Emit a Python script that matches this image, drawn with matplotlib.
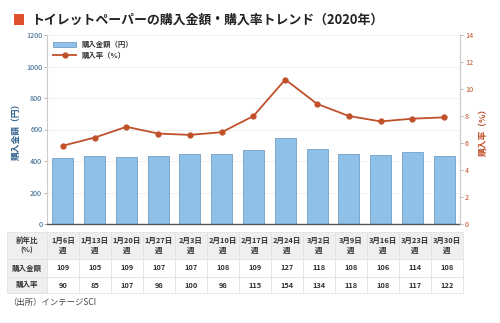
import matplotlib.pyplot as plt
from matplotlib.patches import Rectangle
from matplotlib.lines import Line2D
from matplotlib.patches import Patch

plt.rcParams['font.family'] = ['Noto Sans CJK JP', 'DejaVu Sans']

weeks = ["1月6日\n週", "1月13日\n週", "1月20日\n週", "1月27日\n週", "2月3日\n週", "2月10日\n週",
         "2月17日\n週", "2月24日\n週", "3月2日\n週", "3月9日\n週", "3月16日\n週", "3月23日\n週", "3月30日\n週"]
amount = [417, 432, 427, 432, 442, 442, 470, 544, 476, 444, 436, 455, 432]
rate = [5.8, 6.4, 7.2, 6.7, 6.6, 6.8, 8.0, 10.7, 8.9, 8.0, 7.6, 7.8, 7.9]
yoy_amount = [109, 105, 109, 107, 107, 108, 109, 127, 118, 108, 106, 114, 108]
yoy_rate = [90, 85, 107, 98, 100, 98, 115, 154, 134, 118, 108, 117, 122]

blue = "#8ec0e8"
blue_edge = "#729fc6"
red = "#c0502a"
lab_blue = "#2f5f8a"

fig = plt.figure(figsize=(5.0, 3.23), dpi=100)
W, H = 500, 323

# title
fig.patches.append(Rectangle((14 / W, 1 - 25 / H), 10 / W, 11 / H, transform=fig.transFigure,
                             facecolor="#e0502a", edgecolor="none"))
fig.text(31 / W, 1 - 19.5 / H, "トイレットペーパーの購入金額・購入率トレンド（2020年）",
         fontsize=9.3, fontweight="bold", va="center", ha="left", color="#222222")

ax = fig.add_axes([47 / W, 1 - 224 / H, 413 / W, 189 / H])
x = list(range(len(weeks)))
ax.bar(x, amount, width=0.66, color=blue, edgecolor=blue_edge, linewidth=0.6, zorder=2)
ax.set_xlim(-0.5, len(weeks) - 0.5)
ax.set_ylim(0, 1200)
ax.set_yticks(range(0, 1201, 200))
ax.set_xticks([])
ax.yaxis.grid(True, color="#eeeeee", linewidth=0.6, zorder=0)
ax.set_axisbelow(True)
ax.tick_params(axis="y", labelsize=5.2, colors="#999999", labelcolor=lab_blue, length=2, width=0.5, pad=1.5)
ax.set_ylabel("購入金額（円）", fontsize=6.3, color=lab_blue, fontweight="bold", labelpad=4)
ax.spines["top"].set_visible(False)
ax.spines["left"].set_color("#cccccc")
ax.spines["right"].set_color("#cccccc")
ax.spines["bottom"].set_color("#555555")
ax.spines["bottom"].set_linewidth(1.0)

ax2 = ax.twinx()
ax2.plot(x, rate, color=red, linewidth=1.3, marker="o", markersize=3.5, zorder=3)
ax2.set_ylim(0, 14)
ax2.set_yticks(range(0, 15, 2))
ax2.tick_params(axis="y", labelsize=5.2, colors="#999999", labelcolor=red, length=2, width=0.5, pad=1.5)
ax2.set_ylabel("購入率（%）", fontsize=6.3, color=red, fontweight="bold", labelpad=4)
ax2.spines["top"].set_visible(False)
ax2.spines["right"].set_color("#cccccc")
ax2.spines["left"].set_visible(False)
ax2.spines["bottom"].set_visible(False)

handles = [Patch(facecolor=blue, edgecolor=blue_edge, linewidth=0.6, label="購入金額（円）"),
           Line2D([0], [0], color=red, linewidth=1.3, marker="o", markersize=3.5, label="購入率（%）")]
leg = ax2.legend(handles=handles, loc="upper left", frameon=False, fontsize=5.3,
                 handlelength=3.2, borderaxespad=0.4, labelspacing=0.4)
for t in leg.get_texts():
    t.set_fontweight("bold")
    t.set_color("#333333")

# table
rows = [["前年比\n(%)"] + weeks,
        ["購入金額"] + [str(v) for v in yoy_amount],
        ["購入率"] + [str(v) for v in yoy_rate]]
tbl_top = 232
row_h = [27, 18, 16]
col_x = [7, 47] + [47 + 32 * (i + 1) for i in range(len(weeks))]
y = tbl_top
for r, row in enumerate(rows):
    h = row_h[r]
    for c, txt in enumerate(row):
        x0, x1 = col_x[c], col_x[c + 1]
        fc = "#efefef" if (r == 0 or c == 0) else "white"
        fig.patches.append(Rectangle((x0 / W, 1 - (y + h) / H), (x1 - x0) / W, h / H,
                                     transform=fig.transFigure, facecolor=fc,
                                     edgecolor="#e2e2e2", linewidth=0.6))
        fig.text((x0 + x1) / 2 / W, 1 - (y + h / 2) / H, txt, ha="center", va="center",
                 fontsize=5.4, fontweight="bold", color="#333333", linespacing=1.4)
    y += h

fig.text(8 / W, 1 - 302 / H, "（出所）インテージSCI", fontsize=6, color="#444444",
         ha="left", va="center")

fig.savefig("out.png", dpi=100)
